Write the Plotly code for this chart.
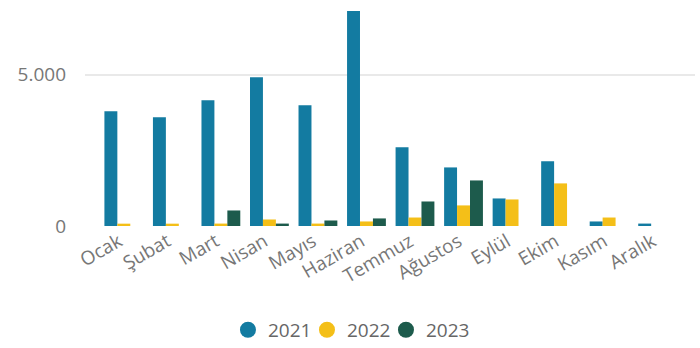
import plotly.graph_objects as go

months = ["Ocak", "Şubat", "Mart", "Nisan", "Mayıs", "Haziran", "Temmuz",
          "Ağustos", "Eylül", "Ekim", "Kasım", "Aralık"]
v2021 = [3790, 3590, 4150, 4915, 3990, 7100, 2600, 1935, 910, 2135, 150, 80]
v2022 = [77, 77, 80, 215, 80, 150, 280, 680, 877, 1407, 280, None]
v2023 = [None, None, 513, 80, 182, 250, 810, 1505, None, None, None, None]
series_names = ["2021", "2022", "2023"]
colors = ["#137BA1", "#F4BF18", "#1D5B4C"]

fig = go.Figure()
for name, vals, col in zip(series_names, [v2021, v2022, v2023], colors):
    fig.add_trace(go.Bar(x=months, y=vals, name=name, marker_color=col,
                         marker_line_width=0, showlegend=False))
for name, col in zip(series_names, colors):
    fig.add_trace(go.Scatter(x=[None], y=[None], mode="markers", name=name,
                             marker=dict(symbol="circle", size=20, color=col)))
# invisible spacer entry so the last legend label is not clipped
fig.add_trace(go.Scatter(x=[None], y=[None], mode="markers", name=" ",
                         marker=dict(color="rgba(0,0,0,0)"), hoverinfo="skip"))

fig.update_layout(
    width=700, height=348,
    margin=dict(l=85, r=5, t=5, b=122, autoexpand=False),
    paper_bgcolor="white", plot_bgcolor="white",
    barmode="group", bargap=0.2, bargroupgap=0,
    separators=",.",
    font=dict(family="Open Sans", color="#777777", size=18),
    xaxis=dict(type="category", range=[-0.80, 11.77], showgrid=False,
               showline=False, zeroline=False, tickangle=-30,
               automargin=False, ticklabelshift=-5,
               tickfont=dict(size=19, color="#777777")),
    yaxis=dict(range=[0, 7300], dtick=5000, tickformat=",d",
               showgrid=True, gridcolor="#E9E9E9", gridwidth=2,
               zeroline=False, showline=False, ticklabelstandoff=18,
               automargin=False,
               tickfont=dict(size=19, color="#777777")),
    legend=dict(orientation="h", x=0.4934, xanchor="center", y=-0.47,
                yanchor="middle", font=dict(size=19, color="#666666"),
                itemsizing="trace", itemwidth=30, traceorder="normal",
                entrywidth=34, entrywidthmode="pixels"),
)
fig.write_html("out.html",
               config={"displayModeBar": False},
               post_script="document.body.style.margin='0';document.body.style.overflow='hidden';")
